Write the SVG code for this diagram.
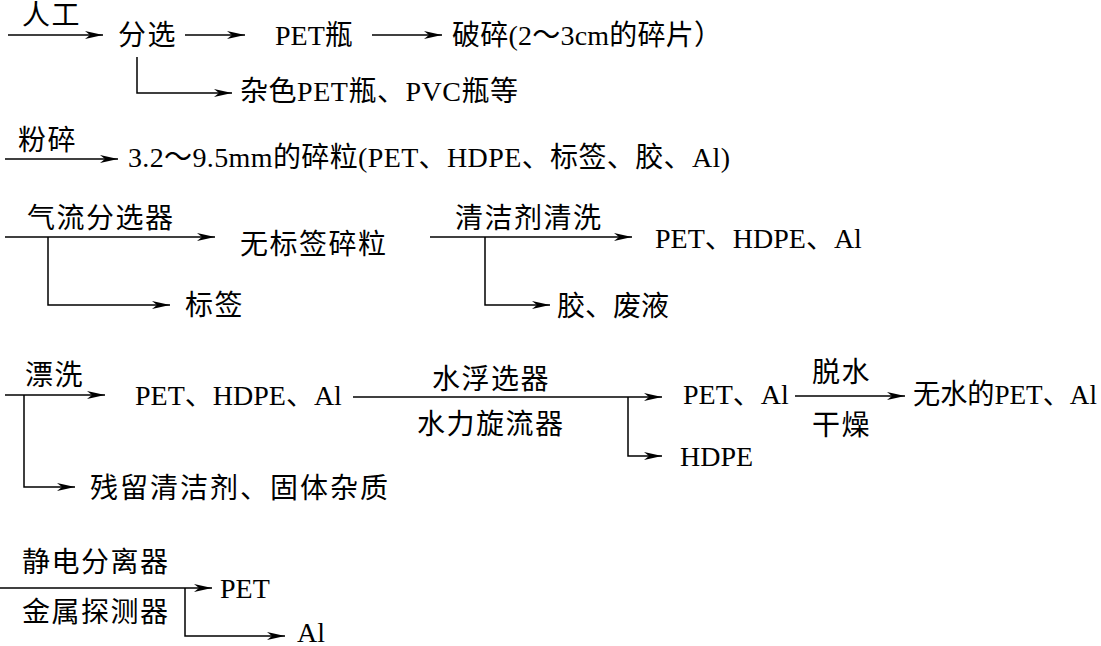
<svg xmlns="http://www.w3.org/2000/svg" width="1101" height="646" viewBox="0 0 1101 646">
<defs>
<marker id="ah" markerUnits="userSpaceOnUse" markerWidth="20" markerHeight="10" refX="18" refY="4" orient="auto">
<path d="M0,0 L18,4 L0,8 L5,4 z" fill="#000"/>
</marker>
<style>
text{font-family:"Liberation Serif","Noto Sans CJK SC",serif;font-size:28px;fill:#000}
.c{letter-spacing:1.5px}
line,polyline{stroke:#000;stroke-width:1.5;fill:none}
</style>
</defs>
<rect width="1101" height="646" fill="#fff"/>
<g id="connectors">
<line x1="8" y1="35" x2="103" y2="35" marker-end="url(#ah)"/>
<line x1="185" y1="35" x2="245" y2="35" marker-end="url(#ah)"/>
<line x1="372" y1="35" x2="442" y2="35" marker-end="url(#ah)"/>
<polyline points="137,57 137,93 232,93" marker-end="url(#ah)"/>
<line x1="5" y1="159" x2="118" y2="159" marker-end="url(#ah)"/>
<line x1="5" y1="237" x2="215" y2="237" marker-end="url(#ah)"/>
<polyline points="48,237 48,305 170,305" marker-end="url(#ah)"/>
<line x1="430" y1="237" x2="632" y2="237" marker-end="url(#ah)"/>
<polyline points="485,237 485,305 550,305" marker-end="url(#ah)"/>
<line x1="5" y1="395" x2="105" y2="395" marker-end="url(#ah)"/>
<polyline points="24,395 24,487 75,487" marker-end="url(#ah)"/>
<line x1="353" y1="397" x2="662" y2="397" marker-end="url(#ah)"/>
<polyline points="628,397 628,456 662,456" marker-end="url(#ah)"/>
<line x1="795" y1="396" x2="905" y2="396" marker-end="url(#ah)"/>
<line x1="0" y1="588" x2="212" y2="588" marker-end="url(#ah)"/>
<polyline points="185,588 185,636 285,636" marker-end="url(#ah)"/>
</g>
<g id="labels">
<text class="c" x="22" y="25">人工</text>
<text class="c" x="18" y="150">粉碎</text>
<text class="c" x="27" y="228">气流分选器</text>
<text class="c" x="455" y="228">清洁剂清洗</text>
<text class="c" x="25" y="385">漂洗</text>
<text class="c" x="432" y="389">水浮选器</text>
<text class="c" x="417" y="434">水力旋流器</text>
<text class="c" x="812" y="382">脱水</text>
<text class="c" x="812" y="435">干燥</text>
<text class="c" x="22" y="572">静电分离器</text>
<text class="c" x="22" y="622">金属探测器</text>
</g>
<g id="n-fenxuan"><text class="c" x="118" y="45">分选</text></g>
<g id="n-petping"><text x="275" y="45">PET瓶</text></g>
<g id="n-posui"><text x="452" y="45" textLength="270" lengthAdjust="spacing">破碎(2～3cm的碎片）</text></g>
<g id="n-zase"><text x="240" y="101" textLength="278" lengthAdjust="spacing">杂色PET瓶、PVC瓶等</text></g>
<g id="n-suili"><text x="128" y="167" textLength="602" lengthAdjust="spacing">3.2～9.5mm的碎粒(PET、HDPE、标签、胶、Al)</text></g>
<g id="n-wubiaoqian"><text class="c" x="240" y="254">无标签碎粒</text></g>
<g id="n-biaoqian"><text class="c" x="185" y="315">标签</text></g>
<g id="n-pha1"><text x="655" y="248">PET、HDPE、Al</text></g>
<g id="n-jiao"><text x="557" y="316">胶、废液</text></g>
<g id="n-pha2"><text x="135" y="405">PET、HDPE、Al</text></g>
<g id="n-canliu"><text x="90" y="498" textLength="298" lengthAdjust="spacing">残留清洁剂、固体杂质</text></g>
<g id="n-petal"><text x="683" y="404">PET、Al</text></g>
<g id="n-hdpe"><text x="680" y="466">HDPE</text></g>
<g id="n-wushui"><text x="913" y="404" textLength="184" lengthAdjust="spacingAndGlyphs">无水的PET、Al</text></g>
<g id="n-pet"><text x="220" y="598">PET</text></g>
<g id="n-al"><text x="297" y="642">Al</text></g>
</svg>
